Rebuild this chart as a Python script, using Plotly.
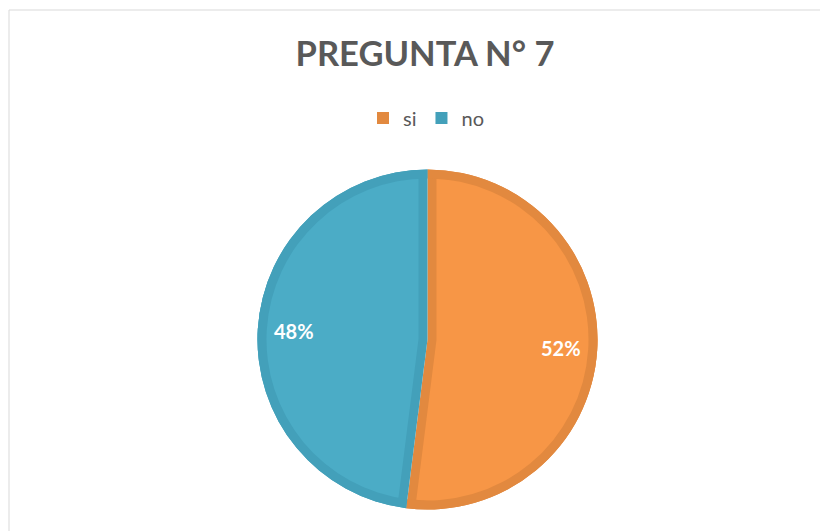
import math
import plotly.graph_objects as go

labels = ["si", "no"]
values = [52, 48]
light_colors = ["#F79646", "#4BACC6"]
dark_colors = ["#E2893F", "#43A0BA"]
title_text = "PREGUNTA N° 7"

W, H = 828, 531
OFF = 8  # page body margin
cx, cy, R = 427.5 - OFF, 339.5 - OFF, 170.0
band = 9.0

dom = dict(x=[(cx - R) / W, (cx + R) / W],
           y=[(H - cy - R) / H, (H - cy + R) / H])
pull = band / (R - band)

fig = go.Figure()
fig.add_trace(go.Pie(labels=labels, values=values, sort=False, direction="clockwise",
                     marker=dict(colors=dark_colors, line=dict(width=0)),
                     textinfo="none", showlegend=False, hoverinfo="skip", domain=dom))
fig.add_trace(go.Pie(labels=labels, values=values, sort=False, direction="clockwise",
                     pull=[pull, pull],
                     marker=dict(colors=light_colors, line=dict(width=0)),
                     textinfo="none", showlegend=False, domain=dom))
fig.add_trace(go.Pie(labels=labels, values=values, sort=False, direction="clockwise",
                     hole=(R - band) / R,
                     marker=dict(colors=dark_colors, line=dict(width=0)),
                     textinfo="none", hoverinfo="skip", showlegend=True, domain=dom))

# percentage labels placed along each slice's bisector
total = sum(values)
annotations = []
cum = 0.0
for lab, v in zip(labels, values):
    mid = (cum + v / 2) / total * 2 * math.pi
    cum += v
    r = 0.785 * R
    px = cx + r * math.sin(mid)
    py = cy - r * math.cos(mid)
    annotations.append(dict(x=px / W, y=1 - py / H, xref="paper", yref="paper",
                            xanchor="center", yanchor="middle",
                            text=f"{round(100 * v / total)}%", showarrow=False,
                            font=dict(family="Lato", size=20, color="white", weight="bold")))

fig.update_layout(
    width=W, height=H,
    margin=dict(l=0, r=0, t=0, b=0),
    paper_bgcolor="white",
    title=dict(text=title_text, x=(425 - OFF) / W, xanchor="center", y=1 - (54 - OFF) / H,
               yanchor="middle",
               font=dict(family="Lato", size=34.5, color="#595959", weight="bold")),
    legend=dict(orientation="h", x=(426 - OFF) / W, xanchor="center", y=1 - (118 - OFF) / H,
                yanchor="middle", itemwidth=30,
                font=dict(family="Lato", size=20, color="#595959")),
    annotations=annotations,
    shapes=[dict(type="rect", xref="paper", yref="paper",
                 x0=(9 - OFF) / W, x1=1.05, y0=-0.05, y1=1 - (10 - OFF) / H,
                 line=dict(color="#D9D9D9", width=1))],
)

fig.write_html("out.html")
